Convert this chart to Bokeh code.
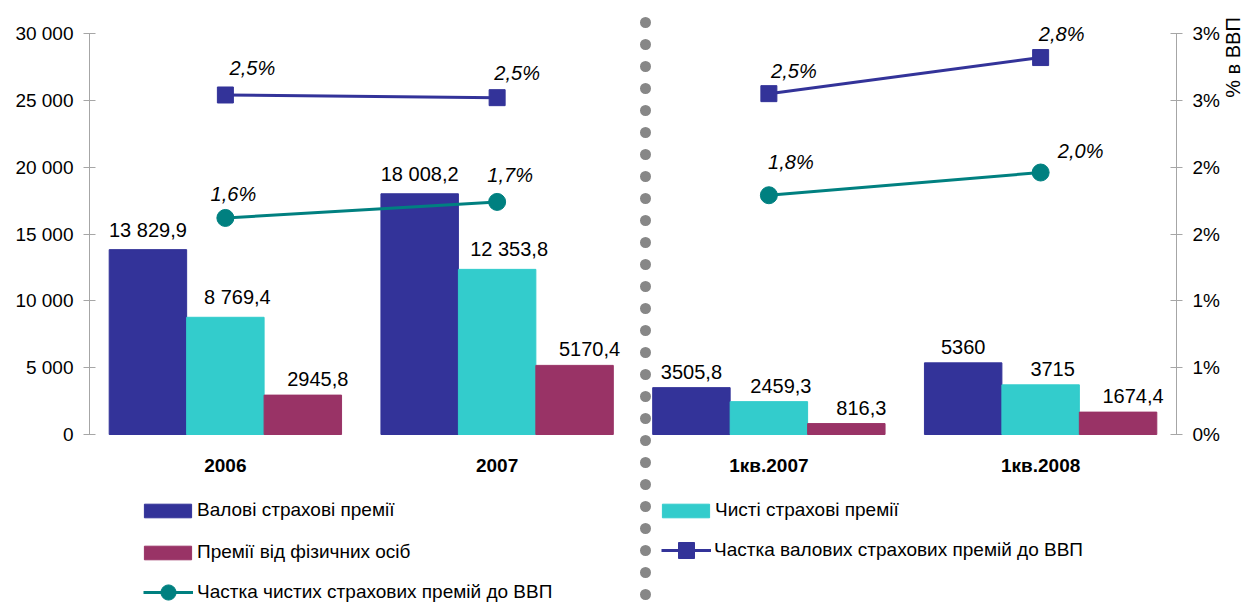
from bokeh.plotting import figure
from bokeh.models import (FactorRange, Range1d, LinearAxis, FixedTicker, ColumnDataSource,
                          Legend, LegendItem, LabelSet, Label, Arrow)
from bokeh.transform import dodge
from bokeh.core.properties import value
from bokeh.embed import file_html
from bokeh.resources import INLINE

categories = ["2006", "2007", "1кв.2007", "1кв.2008"]
gross_premiums = [13829.9, 18008.2, 3505.8, 5360]
net_premiums = [8769.4, 12353.8, 2459.3, 3715]
individual_premiums = [2945.8, 5170.4, 816.3, 1674.4]
gross_labels = ["13 829,9", "18 008,2", "3505,8", "5360"]
net_labels = ["8 769,4", "12 353,8", "2459,3", "3715"]
individual_labels = ["2945,8", "5170,4", "816,3", "1674,4"]
gross_share = [0.0254, 0.0252, 0.0255, 0.0282]
net_share = [0.0162, 0.0174, 0.0179, 0.0196]
gross_share_labels = ["2,5%", "2,5%", "2,5%", "2,8%"]
net_share_labels = ["1,6%", "1,7%", "1,8%", "2,0%"]
left_ticks = [0, 5000, 10000, 15000, 20000, 25000, 30000]
left_tick_labels = ["0", "5 000", "10 000", "15 000", "20 000", "25 000", "30 000"]
right_ticks = [0, 0.005, 0.01, 0.015, 0.02, 0.025, 0.03]
right_tick_labels = ["0%", "1%", "1%", "2%", "2%", "3%", "3%"]
series_names = ["Валові страхові премії", "Чисті страхові премії", "Премії від фізичних осіб",
                "Частка валових страхових премій до ВВП", "Частка чистих страхових премій до ВВП"]
right_axis_title = "% в ВВП"

# label placement (screen-pixel offsets of the percentage labels from their markers)
gross_share_dx = [27, 20, 25, 21]
gross_share_dy = [27, 25, 23, 24]
net_share_dx = [8, 13, 22, 40]
net_share_dy = [24, 27, 33, 22]

FONT = "Liberation Sans"
C_GROSS = "#333399"
C_NET = "#33CCCC"
C_IND = "#993366"
C_NETLINE = "#008080"
AXIS_C = "#A6A6A6"
FS = "19px"
FS_LAB = "20px"

W_PX, H_PX = 1244, 603
LEFT_PX, RIGHT_PX = 89, 1177
TOP_PX, MAX_PX, ZERO_PX = 14, 33, 434
L_MAX = left_ticks[-1]
R_MAX = right_ticks[-1]
per_px = L_MAX / (ZERO_PX - MAX_PX)
y_lo = -(H_PX - ZERO_PX) * per_px
y_hi = L_MAX + (MAX_PX - TOP_PX) * per_px
r_scale = R_MAX / L_MAX

p = figure(x_range=FactorRange(factors=categories, range_padding=0),
           y_range=Range1d(y_lo, y_hi), width=W_PX, height=H_PX,
           output_backend="svg", toolbar_location=None,
           min_border_left=LEFT_PX, min_border_right=W_PX - RIGHT_PX,
           min_border_top=TOP_PX, min_border_bottom=0)
p.outline_line_color = None
p.xgrid.visible = False
p.ygrid.visible = False
p.xaxis.visible = False
p.extra_y_ranges = {"pct": Range1d(y_lo * r_scale, y_hi * r_scale)}

ya = p.yaxis[0]
ya.ticker = FixedTicker(ticks=left_ticks)
ya.bounds = (0, L_MAX)
ya.major_label_overrides = {t: l for t, l in zip(left_ticks, left_tick_labels)}
ya.axis_line_color = AXIS_C
ya.major_tick_line_color = AXIS_C
ya.major_tick_in = 6
ya.major_tick_out = 6
ya.minor_tick_line_color = None
ya.major_label_standoff = 10
ya.major_label_text_font = FONT
ya.major_label_text_font_size = FS
ya.major_label_text_color = "#000000"

ra = LinearAxis(y_range_name="pct", ticker=FixedTicker(ticks=right_ticks), bounds=(0, R_MAX),
                major_label_overrides={t: l for t, l in zip(right_ticks, right_tick_labels)})
ra.axis_line_color = AXIS_C
ra.major_tick_line_color = AXIS_C
ra.major_tick_in = 6
ra.major_tick_out = 6
ra.minor_tick_line_color = None
ra.major_label_standoff = 10
ra.major_label_text_font = FONT
ra.major_label_text_font_size = FS
ra.major_label_text_color = "#000000"
p.add_layout(ra, "right")

# title of the right axis, drawn in the right side panel
p.add_layout(Label(x=10, y=H_PX - 57, x_units="screen", y_units="screen", text=right_axis_title,
                   angle=90, angle_units="deg", text_align="center", text_baseline="middle",
                   text_font=FONT, text_font_size="20px", text_color="#000000"), "right")

src = ColumnDataSource(dict(cat=categories, gross=gross_premiums, net=net_premiums,
                            ind=individual_premiums, gl=gross_labels, nl=net_labels,
                            il=individual_labels))
W = 0.285
r_g = p.vbar(x=dodge("cat", -W, range=p.x_range), top="gross", width=W, color=C_GROSS, source=src)
r_n = p.vbar(x=dodge("cat", 0, range=p.x_range), top="net", width=W, color=C_NET, source=src)
r_i = p.vbar(x=dodge("cat", W, range=p.x_range), top="ind", width=W, color=C_IND, source=src)

for off, xo, col, lab in [(-W, 0, "gross", "gl"), (0, 12, "net", "nl"), (W, 15, "ind", "il")]:
    p.add_layout(LabelSet(x=dodge("cat", off, range=p.x_range), y=col, text=lab, source=src,
                          text_align="center", text_baseline="bottom", x_offset=xo, y_offset=9,
                          text_font=value(FONT), text_font_size=FS_LAB, text_color="#000000"))

p.add_layout(LabelSet(x="cat", y=0, text="cat", source=src, y_offset=-31,
                      text_align="center", text_baseline="middle",
                      text_font=value(FONT), text_font_size=FS, text_font_style="bold",
                      text_color="#000000"))

gl1 = p.line(x=categories[0:2], y=gross_share[0:2], y_range_name="pct", line_color=C_GROSS, line_width=3)
gl2 = p.line(x=categories[2:4], y=gross_share[2:4], y_range_name="pct", line_color=C_GROSS, line_width=3)
gm = p.scatter(x=categories, y=gross_share, y_range_name="pct", marker="square", size=16,
               fill_color=C_GROSS, line_color=C_GROSS)
nl1 = p.line(x=categories[0:2], y=net_share[0:2], y_range_name="pct", line_color=C_NETLINE, line_width=3)
nl2 = p.line(x=categories[2:4], y=net_share[2:4], y_range_name="pct", line_color=C_NETLINE, line_width=3)
nm = p.scatter(x=categories, y=net_share, y_range_name="pct", marker="circle", size=17,
               fill_color=C_NETLINE, line_color=C_NETLINE)

psrc = ColumnDataSource(dict(cat=categories, g=gross_share, n=net_share,
                             gl=gross_share_labels, nl=net_share_labels,
                             gdx=gross_share_dx, gdy=gross_share_dy,
                             ndx=net_share_dx, ndy=net_share_dy))
for col, lab, dx, dy in [("g", "gl", "gdx", "gdy"), ("n", "nl", "ndx", "ndy")]:
    p.add_layout(LabelSet(x="cat", y=col, text=lab, source=psrc, y_range_name="pct",
                          x_offset=dx, y_offset=dy, text_align="center", text_baseline="middle",
                          text_font=value(FONT), text_font_size=FS_LAB, text_font_style="italic",
                          text_color="#000000"))

SEP_X, SEP_TOP = 645, 22
p.add_layout(Arrow(end=None, x_start=SEP_X - LEFT_PX, y_start=H_PX - SEP_TOP,
                   x_end=SEP_X - LEFT_PX, y_end=-10,
                   start_units="screen", end_units="screen",
                   line_color="#878787", line_width=11, line_dash="0 22", line_cap="round"))

common = dict(border_line_alpha=0, background_fill_alpha=0, padding=0, margin=0,
              label_text_font=FONT, label_text_font_size=FS, label_text_color="#000000")

bar_legend = Legend(items=[
    LegendItem(label=series_names[0], renderers=[r_g]),
    LegendItem(label=series_names[1], renderers=[r_n]),
    LegendItem(label=series_names[2], renderers=[r_i]),
], orientation="horizontal", ncols=2, location=(49, 40),
    spacing=20, glyph_width=59, glyph_height=17, label_standoff=0, label_width=439, **common)
p.add_layout(bar_legend)

gross_line_legend = Legend(items=[LegendItem(label=series_names[3], renderers=[gl1, gm])],
                           location=(572, 33), glyph_width=50, glyph_height=40,
                           label_standoff=3, **common)
p.add_layout(gross_line_legend)

net_line_legend = Legend(items=[LegendItem(label=series_names[4], renderers=[nl1, nm])],
                         location=(54, -8), glyph_width=50, glyph_height=38,
                         label_standoff=4, **common)
p.add_layout(net_line_legend)

open("out.html", "w").write(file_html(p, INLINE))
